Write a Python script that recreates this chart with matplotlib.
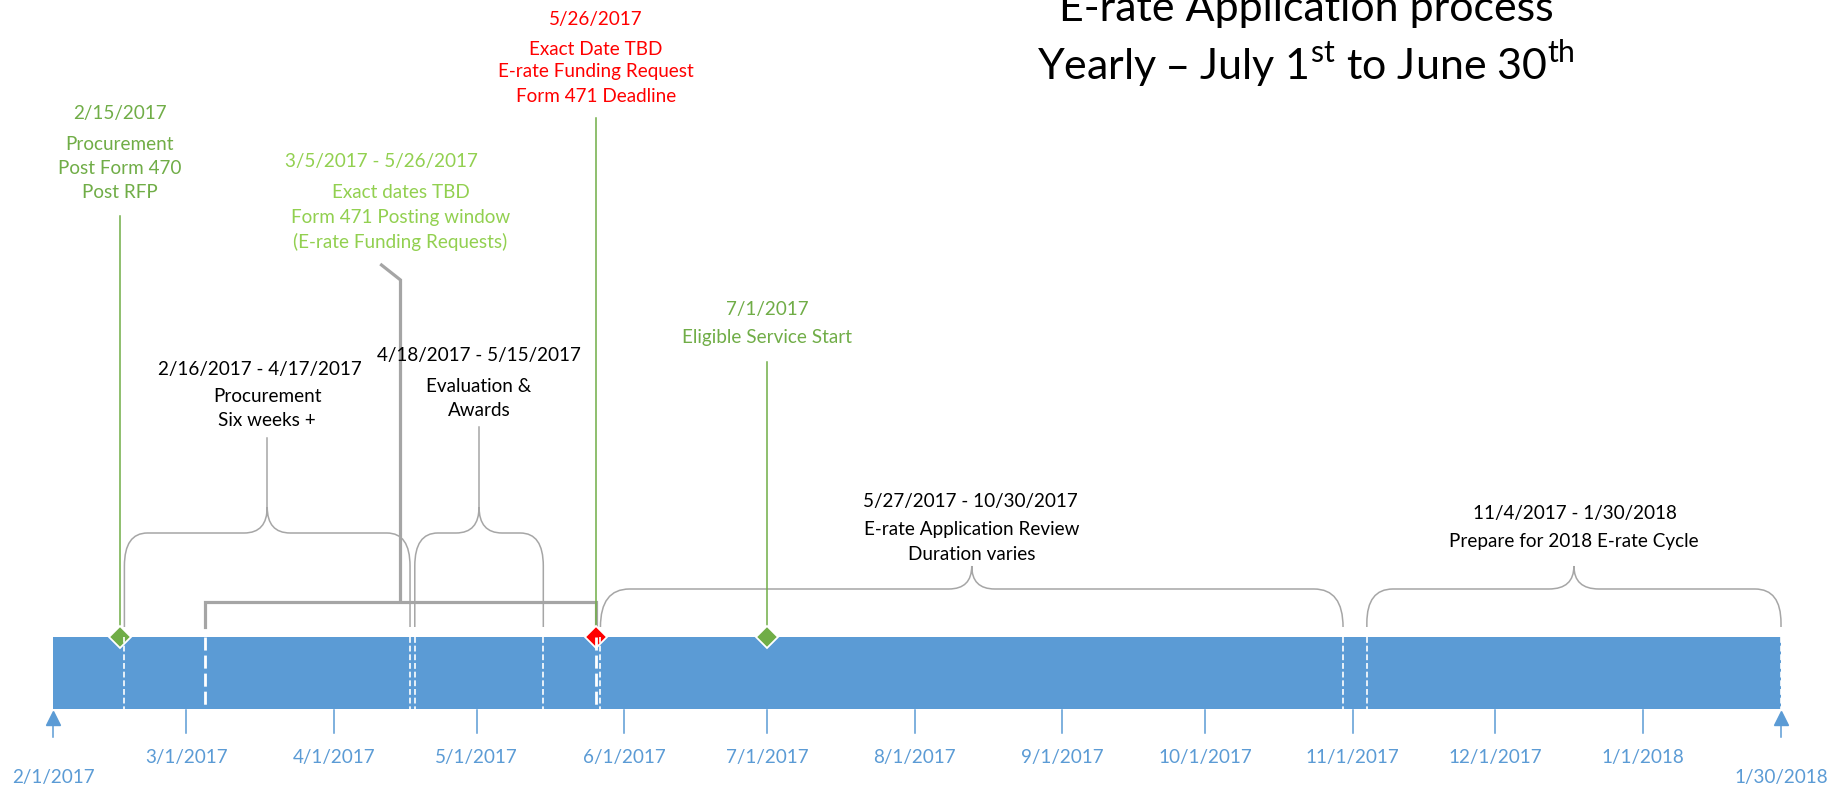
import datetime as dt
import matplotlib.pyplot as plt
import matplotlib.dates as mdates
from matplotlib.path import Path
from matplotlib.patches import PathPatch

plt.rcParams['font.family'] = ['Lato', 'DejaVu Sans']

# ---- data ----
span = ['2/1/2017', '1/30/2018']
tick_labels = ['3/1/2017', '4/1/2017', '5/1/2017', '6/1/2017', '7/1/2017', '8/1/2017',
               '9/1/2017', '10/1/2017', '11/1/2017', '12/1/2017', '1/1/2018']

milestone_dates = ['2/15/2017', '5/26/2017', '7/1/2017']
milestone_text = [['Procurement', 'Post Form 470', 'Post RFP'],
                  ['Exact Date TBD', 'E-rate Funding Request', 'Form 471 Deadline'],
                  ['Eligible Service Start']]
milestone_colors = ['#70AD47', '#FF0000', '#70AD47']

window = ['3/5/2017', '5/26/2017']
window_text = ['Exact dates TBD', 'Form 471 Posting window', '(E-rate Funding Requests)']

period_starts = ['2/16/2017', '4/18/2017', '5/27/2017', '11/4/2017']
period_ends = ['4/17/2017', '5/15/2017', '10/30/2017', '1/30/2018']
period_text = [['Procurement', 'Six weeks +'],
               ['Evaluation &', 'Awards'],
               ['E-rate Application Review', 'Duration varies'],
               ['Prepare for 2018 E-rate Cycle']]

title_lines = ['E-rate Application process',
               r'Yearly – July 1$^{\mathregular{st}}$ to June 30$^{\mathregular{th}}$']


def num(s):
    return mdates.date2num(dt.datetime.strptime(s, '%m/%d/%Y'))


BLUE = '#5B9BD5'
GRAY = '#A6A6A6'
GREEN = '#70AD47'
LIGHT_GREEN = '#92D050'
FS = 13.6

fig = plt.figure(figsize=(18.48, 7.92), dpi=100)
ax = fig.add_axes([0, 0, 1, 1])
ax.axis('off')

x0, x1 = num(span[0]), num(span[1])
ppd = (1781 - 53) / (x1 - x0)          # pixels per day
ax.set_xlim(x0 - 53 / ppd, x1 + (1848 - 1781) / ppd)
ax.set_ylim(792, 0)                    # y in pixels from the top


def px(p):
    return p / ppd


# timeline bar
bar_top, bar_bot = 637, 709
ax.barh((bar_top + bar_bot) / 2, x1 - x0, left=x0, height=bar_bot - bar_top,
        color=BLUE, zorder=1)

# month ticks + labels
for lab in tick_labels:
    x = num(lab)
    ax.plot([x, x], [bar_bot + 1, 733], color=BLUE, lw=1.1, zorder=1)
    ax.text(x, 757, lab, ha='center', va='center', color=BLUE, fontsize=FS)

# start / end markers
for lab in span:
    x = num(lab)
    ax.plot([x, x], [724, 737], color=BLUE, lw=1.1)
    ax.plot(x, 718, '^', ms=10.5, color=BLUE)
    ax.text(x, 778, lab, ha='center', va='center', color=BLUE, fontsize=FS)

# title (top line runs off the top edge, as in the original)
tx = ax.get_xlim()[0] + px(1306)
ax.text(tx, 21, title_lines[0], ha='center', va='baseline', fontsize=31, color='black')
ax.text(tx, 80, title_lines[1], ha='center', va='baseline', fontsize=31, color='black')


def brace(xa, xb, yb, ym, yt, rx, ry, trx):
    xc = (xa + xb) / 2
    ry = min(ry, yb - ym)
    verts = [(xa, yb), (xa, ym + ry), (xa, ym), (xa + px(rx), ym),
             (xc - px(trx), ym), (xc, ym), (xc, yt),
             (xc, ym), (xc + px(trx), ym),
             (xb - px(rx), ym), (xb, ym), (xb, ym + ry), (xb, yb)]
    codes = [Path.MOVETO, Path.LINETO, Path.CURVE3, Path.CURVE3,
             Path.LINETO, Path.CURVE3, Path.CURVE3,
             Path.CURVE3, Path.CURVE3,
             Path.LINETO, Path.CURVE3, Path.CURVE3, Path.LINETO]
    ax.add_patch(PathPatch(Path(verts, codes), fill=False, ec=GRAY, lw=1.1, zorder=2))
    return xc


# period braces
brace_geom = [(533, 507, 23, 33, 23), (533, 507, 23, 33, 23),
              (589, 566, 29, 38, 23), (589, 566, 26, 34, 25)]
text_y = [[369, 397, 421], [356, 386, 410], [501, 529, 554], [514, 542]]
first_dx = [-7, 0, -1, 1]
connector = [438, 427, None, None]
for i in range(len(period_starts)):
    xa, xb = num(period_starts[i]), num(period_ends[i])
    ym, yt, rx, ry, trx = brace_geom[i]
    xc = brace(xa, xb, 627, ym, yt, rx, ry, trx)
    lines = [period_starts[i] + ' - ' + period_ends[i]] + period_text[i]
    for j, (t, y) in enumerate(zip(lines, text_y[i])):
        dx = px(first_dx[i]) if j == 0 else 0
        ax.text(xc + dx, y, t, ha='center', va='center', fontsize=FS, color='black')
    if connector[i]:
        ax.plot([xc, xc], [connector[i], yt], color=GRAY, lw=1.1)
    # thin dashed markers through the bar
    for x in (xa, xb):
        ax.plot([x, x], [bar_top, bar_bot], color='white', lw=1.2,
                ls=(0, (3.5, 1.7)), zorder=4)

# posting window bracket
wa, wb = num(window[0]), num(window[1])
wm = (wa + wb) / 2
ax.plot([wa, wa, wb, wb], [627, 602, 602, 627], color='#A5A5A5', lw=2.3,
        solid_joinstyle='miter', zorder=2)
ax.plot([wm, wm, wm - px(19)], [602, 280, 265], color='#A5A5A5', lw=2.3,
        solid_joinstyle='miter', zorder=2)
for x in (wa, wb):
    ax.plot([x, x], [bar_top, bar_bot], color='white', lw=2.0,
            ls=(0, (4.7, 1.8)), zorder=4)
wy = [161, 193, 218, 242]
ax.text(wm - px(19), wy[0], window[0] + ' - ' + window[1], ha='center', va='center',
        fontsize=FS, color=LIGHT_GREEN)
for t, y in zip(window_text, wy[1:]):
    ax.text(wm, y, t, ha='center', va='center', fontsize=FS, color=LIGHT_GREEN)

# milestones
ms_y = [[114, 145, 168.5, 193], [19, 49.5, 72, 97], [310, 338]]
line_top = [216, 118, 362]
for i, d in enumerate(milestone_dates):
    x = num(d)
    ax.plot([x, x], [line_top[i], bar_top], color=GREEN, lw=1.1, zorder=2)
    ax.plot(x, bar_top, 'D', ms=11.5, mfc=milestone_colors[i], mec='white',
            mew=1.3, zorder=3)
    for t, y in zip([d] + milestone_text[i], ms_y[i]):
        ax.text(x, y, t, ha='center', va='center', fontsize=FS,
                color=milestone_colors[i])

fig.savefig('out.png', dpi=100)
